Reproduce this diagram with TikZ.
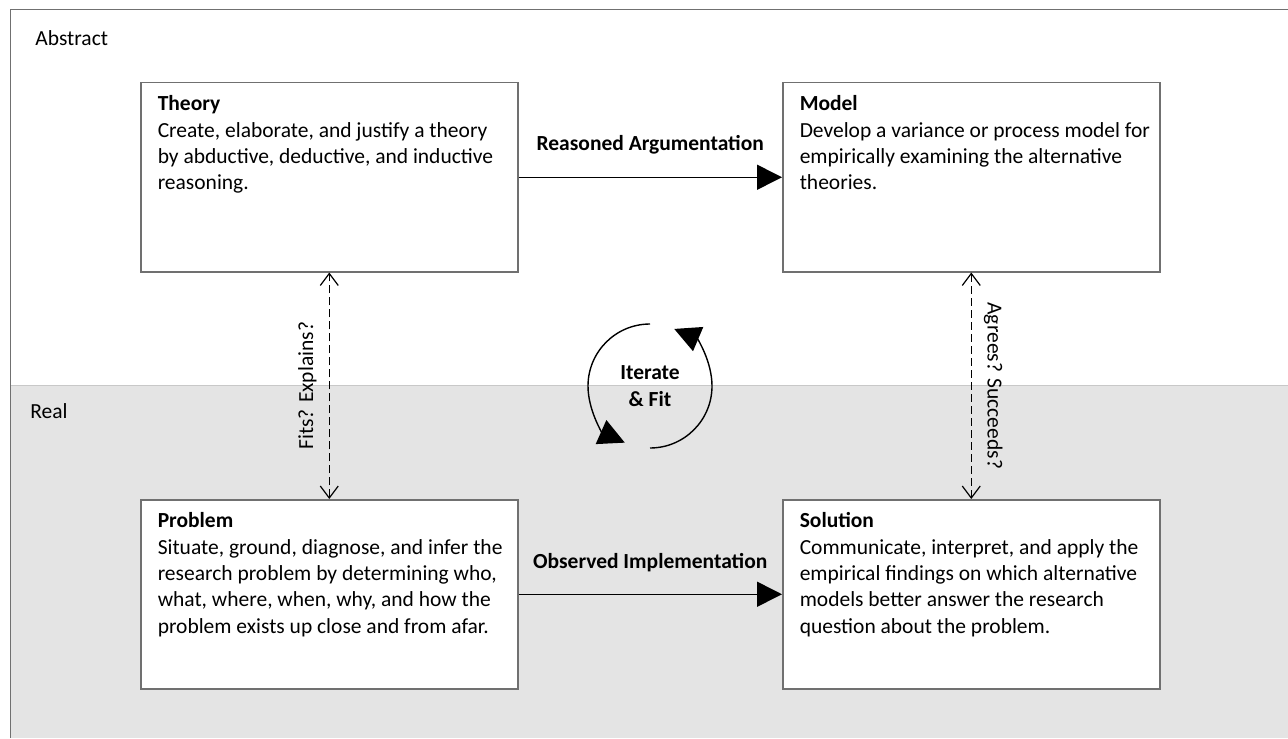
\documentclass[tikz,border=0pt]{standalone}
\usepackage{fontspec}
\setmainfont{Carlito}
\usepackage{xcolor}
\usepackage{tikz}
\usetikzlibrary{arrows.meta}

\definecolor{framegray}{HTML}{707070}
\definecolor{bandgray}{HTML}{E4E4E4}
\definecolor{bandline}{HTML}{C8C8C8}

% title in bold, then the description lines
\newcommand{\cardtext}[2]{%
  \parbox[t][94.5pt][t]{188.5pt}{\raggedright\leftskip=8.5pt
    \rule{0pt}{14pt}\textbf{#1}\\#2}}

\begin{document}
\fontsize{10.75}{13.2}\selectfont
\begin{tikzpicture}[
  x=0.5pt, y=-0.5pt,
  card/.style={draw=framegray, line width=0.75pt, fill=white, anchor=north west,
               inner sep=0pt, minimum width=188.5pt, minimum height=94.5pt},
  flow/.style={line width=0.75pt, -{Triangle[length=12.5pt, width=12.5pt]}},
  check/.style={line width=0.6pt, dash pattern=on 4pt off 2pt,
                {Straight Barb[length=6pt, width=9pt]}-{Straight Barb[length=6pt, width=9pt]}},
  flowlabel/.style={font=\bfseries, above=11pt, inner sep=0pt},
  checklabel/.style={sloped, above=6pt, inner sep=0pt},
  cyc/.style={line width=0.7pt, -{Triangle[length=13pt, width=13pt]}},
  zone/.style={anchor=base west, inner sep=0pt}
]
\useasboundingbox (0,0) rectangle (1288,738);

% --- Background: abstract / real bands ---
\fill[bandgray] (10,385) rectangle (1288,738);
\draw[bandline, line width=0.5pt] (10,385) -- (1288,385);
\draw[framegray, line width=0.5pt] (10,738) -- (10,10) -- (1288,10);
\node[zone] (abs) at (35,46) {Abstract};
\node[zone] (real) at (30,418) {Real};

% --- Four boxes ---
\node[card] (theory) at (140,82)
  {\cardtext{Theory}{Create, elaborate, and justify a theory\\
   by abductive, deductive, and inductive\\ reasoning.}};
\node[card] (model) at (782,82)
  {\cardtext{Model}{Develop a variance or process model for\\
   empirically examining the alternative\\ theories.}};
\node[card] (problem) at (140,499)
  {\cardtext{Problem}{Situate, ground, diagnose, and infer the\\
   research problem by determining who,\\
   what, where, when, why, and how the\\
   problem exists up close and from afar.}};
\node[card] (solution) at (782,499)
  {\cardtext{Solution}{Communicate, interpret, and apply the\\
   empirical findings on which alternative\\
   models better answer the research\\
   question about the problem.}};

% --- Horizontal arrows ---
\draw[flow] (theory) -- node[flowlabel] {Reasoned Argumentation} (model);
\draw[flow] (problem) -- node[flowlabel] {Observed Implementation} (solution);

% --- Vertical checks ---
\draw[check] (problem.north) -- node[checklabel] {Fits? Explains?} (theory.south);
\draw[check] (model.south) -- node[checklabel] {Agrees? Succeeds?} (solution.north);

% --- Iterate cycle ---
\node[font=\bfseries, align=center, inner sep=0pt] (iter) at (650,386) {Iterate\\\& Fit};
\draw[cyc] ([shift={(90:31pt)}]iter.center) arc[start angle=90, end angle=246, radius=31pt];
\draw[cyc] ([shift={(270:31pt)}]iter.center) arc[start angle=270, end angle=427, radius=31pt];

\end{tikzpicture}
\end{document}
